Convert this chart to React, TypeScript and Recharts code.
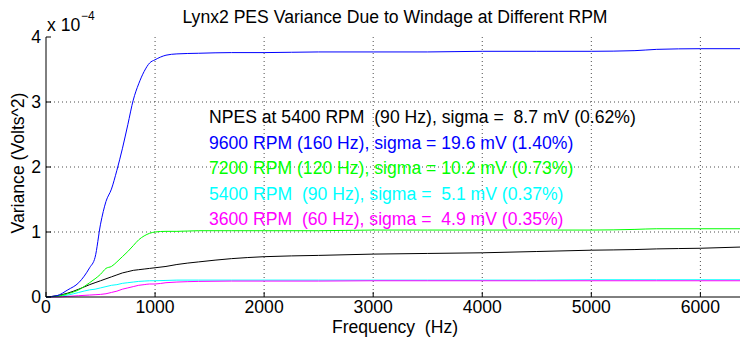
import { LineChart, Line, XAxis, YAxis, CartesianGrid } from 'recharts';

// frequency samples (Hz)
const freq = [0, 100, 200, 300, 400, 450, 500, 550, 600, 650, 700, 750, 800, 850, 900, 950, 1000, 1100, 1200, 1400, 1700, 2000, 2500, 3000, 3500, 4000, 4500, 5000, 5400, 5600, 6000, 6400];

// variance, in units of 1e-4 Volts^2
const rpm9600 = [0, 0.02, 0.11, 0.22, 0.45, 0.61, 1.12, 1.47, 1.66, 1.95, 2.28, 2.65, 3.03, 3.28, 3.47, 3.6, 3.65, 3.72, 3.74, 3.75, 3.76, 3.76, 3.77, 3.77, 3.77, 3.78, 3.78, 3.78, 3.79, 3.81, 3.82, 3.82];
const rpm7200 = [0, 0.01, 0.05, 0.11, 0.22, 0.28, 0.35, 0.44, 0.47, 0.54, 0.62, 0.7, 0.79, 0.88, 0.94, 0.98, 1.0, 1.01, 1.01, 1.02, 1.02, 1.02, 1.02, 1.03, 1.03, 1.03, 1.03, 1.03, 1.04, 1.05, 1.05, 1.05];
const npes5400 = [0, 0.02, 0.06, 0.12, 0.19, 0.22, 0.25, 0.28, 0.31, 0.34, 0.37, 0.39, 0.41, 0.42, 0.43, 0.44, 0.45, 0.47, 0.5, 0.54, 0.59, 0.62, 0.64, 0.66, 0.67, 0.68, 0.7, 0.72, 0.73, 0.74, 0.75, 0.77];
const rpm5400 = [0, 0.01, 0.03, 0.07, 0.11, 0.12, 0.14, 0.16, 0.18, 0.19, 0.21, 0.22, 0.23, 0.24, 0.245, 0.25, 0.25, 0.255, 0.26, 0.26, 0.26, 0.26, 0.26, 0.26, 0.26, 0.26, 0.26, 0.265, 0.265, 0.265, 0.265, 0.265];
const rpm3600 = [0, 0, 0.01, 0.02, 0.03, 0.035, 0.04, 0.05, 0.07, 0.09, 0.12, 0.14, 0.16, 0.18, 0.19, 0.2, 0.2, 0.22, 0.23, 0.24, 0.245, 0.245, 0.245, 0.25, 0.25, 0.25, 0.25, 0.25, 0.25, 0.25, 0.25, 0.25];

const xTicks = [0, 1000, 2000, 3000, 4000, 5000, 6000];
const yTicks = [0, 1, 2, 3, 4];

const notes = [
  { text: 'NPES at 5400 RPM  (90 Hz), sigma =  8.7 mV (0.62%)', color: '#000000' },
  { text: '9600 RPM (160 Hz), sigma = 19.6 mV (1.40%)', color: '#0000ff' },
  { text: '7200 RPM (120 Hz), sigma = 10.2 mV (0.73%)', color: '#00ff00' },
  { text: '5400 RPM  (90 Hz), sigma =  5.1 mV (0.37%)', color: '#00ffff' },
  { text: '3600 RPM  (60 Hz), sigma =  4.9 mV (0.35%)', color: '#ff00ff' },
];

const data = freq.map((f, i) => ({
  f,
  npes: npes5400[i],
  r9600: rpm9600[i],
  r7200: rpm7200[i],
  r5400: rpm5400[i],
  r3600: rpm3600[i],
}));

const font = '"Liberation Sans", Arial, Helvetica, sans-serif';
const fs = 17.6;
const tickStyle = { fontSize: fs, fill: '#000', fontFamily: font };
const pre = { whiteSpace: 'pre' as const };
const blank = () => '';

export default function App() {
  return (
    <div style={{ position: 'absolute', left: 0, top: 0, width: 740, height: 342, overflow: 'hidden', background: '#fff' }}>
      <LineChart width={748} height={342} data={data} margin={{ top: 37, right: 4, bottom: 15, left: 6 }}>
        <CartesianGrid stroke="#000" strokeDasharray="1 3" strokeOpacity={0.7} horizontalValues={[1, 2, 3]} verticalValues={[1000, 2000, 3000, 4000, 5000, 6000]} />
        <XAxis
          dataKey="f"
          type="number"
          domain={[0, 6400]}
          ticks={xTicks}
          tick={tickStyle}
          tickSize={-5}
          tickMargin={9}
          height={30}
          stroke="#000"
          interval={0}
        />
        <XAxis xAxisId="top" orientation="top" dataKey="f" type="number" domain={[0, 6400]} ticks={xTicks} tickFormatter={blank} tickSize={-5} height={0} stroke="#000" />
        <YAxis
          type="number"
          domain={[0, 4]}
          ticks={yTicks}
          tick={tickStyle}
          tickSize={-5}
          tickMargin={10}
          width={40}
          stroke="#000"
          interval={0}
        />
        <YAxis yAxisId="right" orientation="right" type="number" domain={[0, 4]} ticks={yTicks} tickFormatter={blank} tickSize={-5} width={0} stroke="#000" />
        <Line type="monotone" dataKey="npes" stroke="#000000" strokeWidth={1} dot={false} isAnimationActive={false} />
        <Line type="monotone" dataKey="r5400" stroke="#00ffff" strokeWidth={1} dot={false} isAnimationActive={false} />
        <Line type="monotone" dataKey="r3600" stroke="#ff00ff" strokeWidth={1} dot={false} isAnimationActive={false} />
        <Line type="monotone" dataKey="r7200" stroke="#00ff00" strokeWidth={1} dot={false} isAnimationActive={false} />
        <Line type="monotone" dataKey="r9600" stroke="#0000ff" strokeWidth={1} dot={false} isAnimationActive={false} />
      </LineChart>
      <svg width={740} height={342} style={{ position: 'absolute', left: 0, top: 0, pointerEvents: 'none' }} fontFamily={font}>
        <text x={395} y={23} fontSize={fs} textAnchor="middle" fill="#000" style={pre}>Lynx2 PES Variance Due to Windage at Different RPM</text>
        <text x={47} y={31} fontSize={fs} fill="#000" style={pre}>x 10</text>
        <text x={81} y={20} fontSize={12} fill="#000">−4</text>
        <text x={395} y={333} fontSize={fs} textAnchor="middle" fill="#000" style={pre}>Frequency  (Hz)</text>
        <text x={24} y={163} fontSize={fs} textAnchor="middle" fill="#000" transform="rotate(-90 24 163)" style={pre}>Variance (Volts^2)</text>
        {notes.map((n, i) => (
          <text key={i} x={209} y={123 + i * 25.5} fontSize={fs} fill={n.color} style={pre}>{n.text}</text>
        ))}
      </svg>
    </div>
  );
}
